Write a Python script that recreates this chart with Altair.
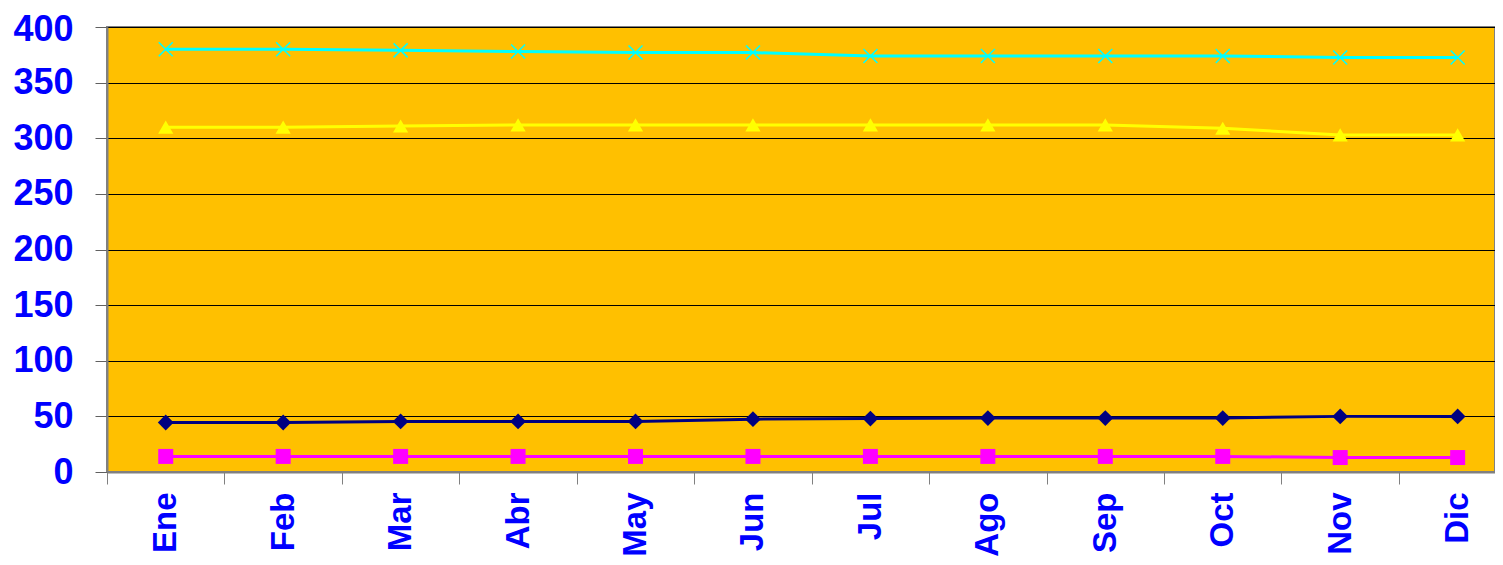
import json
import altair as alt
import pandas as pd

months = ["Ene", "Feb", "Mar", "Abr", "May", "Jun", "Jul", "Ago", "Sep", "Oct", "Nov", "Dic"]
serie_cyan = [380, 380, 379, 378, 377, 377, 374, 374, 374, 374, 372.5, 372.5]
serie_yellow = [310, 310, 311, 312, 312, 312, 312, 312, 312, 309, 303, 303]
serie_navy = [44.5, 44.5, 45.5, 45.5, 45.5, 47.5, 48, 48.5, 48.5, 48.5, 50, 50]
serie_magenta = [14, 14, 14, 14, 14, 14, 14, 14, 14, 14, 13, 13]
y_ticks = [0, 50, 100, 150, 200, 250, 300, 350, 400]

series = [
    ("Serie 1", serie_navy, "#000080", "diamond", True, 250),
    ("Serie 2", serie_magenta, "#FF00FF", "square", True, 225),
    ("Serie 3", serie_yellow, "#FFFF00", "triangle-up", True, 230),
    ("Serie 4", serie_cyan, "#00FFFF", "M-1,-1L1,1M-1,1L1,-1", False, 196),
]

rows = []
for name, vals, _, _, _, _ in series:
    for i, (m, v) in enumerate(zip(months, vals)):
        rows.append({"idx": i, "mes": m, "serie": name, "valor": v})
df = pd.DataFrame(rows)

label_expr = "datum.value % 1 === 0 ? " + json.dumps(months) + "[datum.value] : ''"
x_values = [i * 0.5 - 0.5 for i in range(2 * len(months))]

font = "Liberation Sans"
x_enc = alt.X(
    "idx:Q",
    title=None,
    scale=alt.Scale(domain=[-0.5, 11.318], nice=False, zero=False),
    axis=alt.Axis(
        values=x_values,
        labelExpr=label_expr,
        labelAngle=-90,
        labelFont=font,
        labelFontSize=33,
        labelFontWeight="bold",
        labelColor="#0000FF",
        labelPadding=8,
        labelOverlap=False,
        labelFlush=False,
        tickSize=12,
        tickColor="#808080",
        tickOpacity={"condition": {"test": "datum.value % 1 !== 0", "value": 1}, "value": 0},
        domainColor="#808080",
        domainWidth=2,
        grid=False,
    ),
)
y_enc = alt.Y(
    "valor:Q",
    title=None,
    scale=alt.Scale(domain=[0, 400], nice=False),
    axis=alt.Axis(
        values=y_ticks,
        labelFont=font,
        labelFontSize=36,
        labelFontWeight="bold",
        labelColor="#0000FF",
        labelPadding=22,
        labelOverlap=False,
        labelOffset={"condition": {"test": "datum.value >= 400", "value": 2}, "value": 0},
        tickSize=12,
        tickColor="#606060",
        domainColor="#808080",
        domainWidth=2,
        grid=True,
        gridColor="#000000",
        gridWidth=1,
    ),
)

lines = alt.Chart(df).mark_line(strokeWidth=3).encode(
    x=x_enc,
    y=y_enc,
    color=alt.Color(
        "serie:N",
        scale=alt.Scale(domain=[s[0] for s in series], range=[s[2] for s in series]),
        legend=None,
    ),
)

layers = [lines]
for name, _, color, shape, filled, size in series:
    pts = alt.Chart(df[df["serie"] == name]).mark_point(
        shape=shape,
        filled=filled,
        size=size,
        color=color,
        opacity=1,
        strokeWidth=1.5,
    ).encode(x=x_enc, y=y_enc)
    layers.append(pts)

chart = alt.layer(*layers).properties(
    width=1388,
    height=445,
    autosize=alt.AutoSizeParams(type="none"),
    padding={"left": 99, "top": 19, "right": 0, "bottom": 85},
    background="#FFFFFF",
).configure_view(fill="#FFC000", stroke="#808080", strokeWidth=2)

chart.save("out.html", embed_options={"renderer": "svg", "actions": False})
